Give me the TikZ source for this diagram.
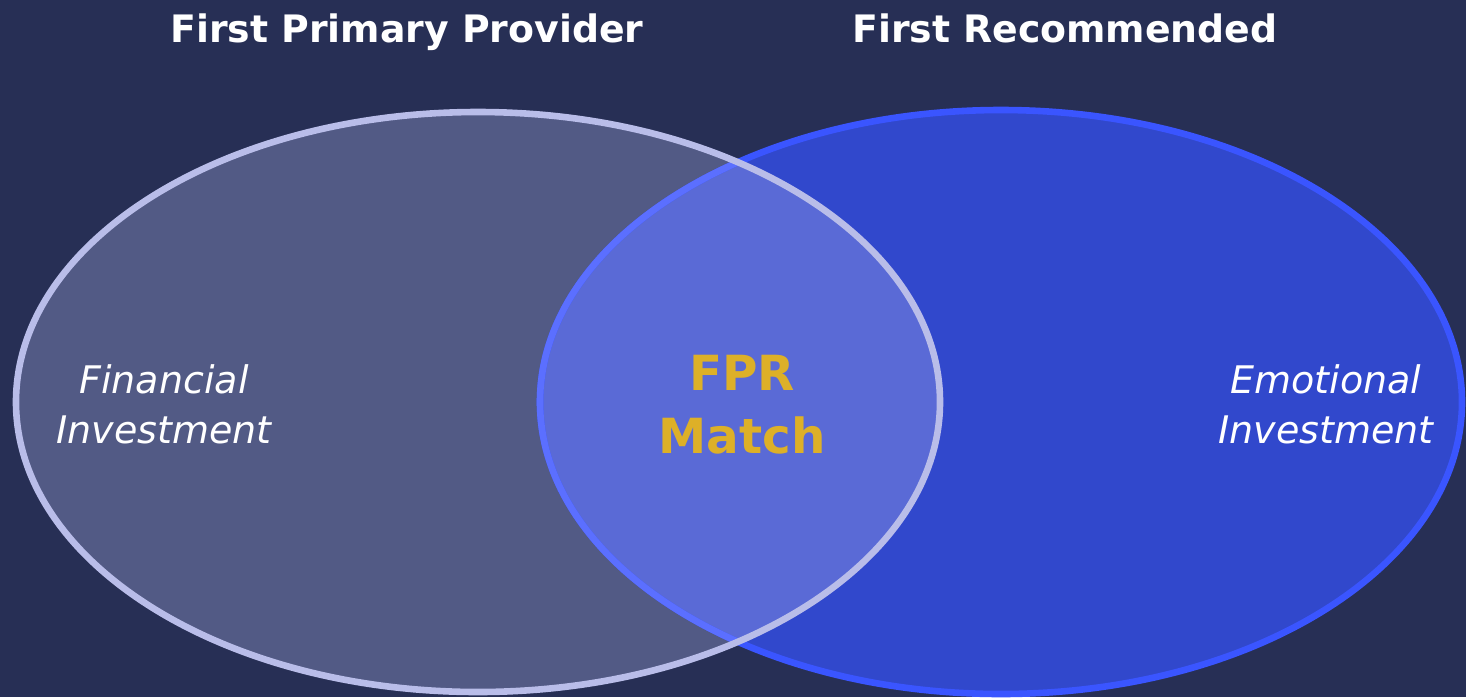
\documentclass[tikz,border=0pt]{standalone}
\usepackage{fontspec}
\setmainfont{DejaVu Sans}
\usetikzlibrary{positioning}

\definecolor{bgnavy}{HTML}{272F55}
\definecolor{leftfill}{HTML}{525A85}
\definecolor{rightfill}{HTML}{3148CC}
\definecolor{bothfill}{HTML}{5A6AD6}
\definecolor{leftrim}{HTML}{B9BDE9}
\definecolor{rightrim}{HTML}{3A55FF}
\definecolor{rightrimin}{HTML}{5B6FFF}
\definecolor{gold}{HTML}{DDB028}

\tikzset{
  title/.style={text=white, font=\bfseries\fontsize{18.9pt}{22pt}\selectfont, anchor=base, inner sep=0pt},
  sidelabel/.style={text=white, font=\itshape\fontsize{19pt}{25pt}\selectfont, align=center, inner sep=0pt},
  centrelabel/.style={text=gold, font=\bfseries\fontsize{24.2pt}{31.5pt}\selectfont, align=center, inner sep=0pt},
  rim/.style={line width=3.3pt}
}

\begin{document}
\begin{tikzpicture}[x=0.5pt, y=-0.5pt]
  % canvas
  \fill[bgnavy] (0,0) rectangle (1466,697);
  \useasboundingbox (0,0) rectangle (1466,697);

  % the two sets
  \def\leftset{(478,402) ellipse [x radius=231pt, y radius=145pt]}
  \def\rightset{(1001,402) ellipse [x radius=230.5pt, y radius=146pt]}

  \fill[leftfill] \leftset;
  \fill[rightfill] \rightset;
  \begin{scope}
    \clip \leftset;
    \fill[bothfill] \rightset;
  \end{scope}

  % outlines
  \draw[rim, rightrim] \rightset;
  \begin{scope}
    \clip \leftset;
    \draw[rim, rightrimin] \rightset;
  \end{scope}
  \draw[rim, leftrim] \leftset;

  % headings
  \node[title] (tleft) at (407,42) {First Primary Provider};
  \node[title] (tright) at (1065,42) {First Recommended};

  % set labels
  \node[sidelabel] (fin) at (164,404) {Financial\\Investment};
  \node[sidelabel] (emo) at (1326,404) {Emotional\\Investment};
  \node[centrelabel] (fpr) at (742,405) {FPR\\Match};
\end{tikzpicture}
\end{document}
